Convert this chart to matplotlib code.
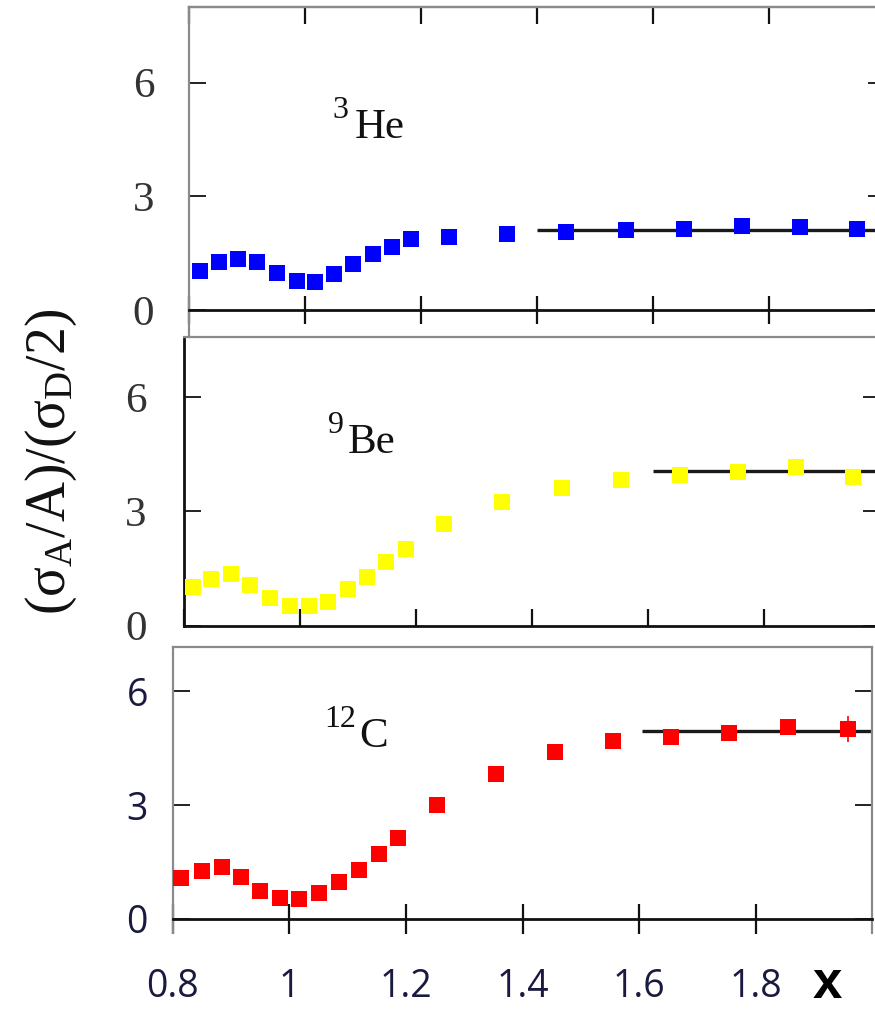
import matplotlib
matplotlib.use("Agg")
import matplotlib.pyplot as plt

plt.rcParams['mathtext.fontset'] = 'custom'
plt.rcParams['mathtext.rm'] = 'Liberation Serif'
plt.rcParams['mathtext.it'] = 'Liberation Serif'
plt.rcParams['mathtext.bf'] = 'Liberation Serif:bold'

# ---------------- data ----------------
x_he = [0.819, 0.851, 0.884, 0.918, 0.952, 0.986, 1.018, 1.050, 1.083, 1.117,
        1.150, 1.183, 1.249, 1.349, 1.450, 1.554, 1.653, 1.753, 1.853, 1.952]
y_he = [1.04, 1.26, 1.36, 1.27, 0.98, 0.77, 0.75, 0.95, 1.23, 1.48,
        1.67, 1.87, 1.92, 2.00, 2.05, 2.11, 2.13, 2.22, 2.20, 2.13]
e_he = [0, 0, 0, 0, 0, 0, 0, 0, 0, 0, 0, 0, 0, 0, 0, 0, 0, 0, 0, 0]

x_be = [0.815, 0.847, 0.881, 0.914, 0.949, 0.982, 1.015, 1.048, 1.083, 1.116,
        1.149, 1.182, 1.249, 1.349, 1.452, 1.554, 1.656, 1.755, 1.855, 1.953]
y_be = [1.01, 1.21, 1.34, 1.07, 0.72, 0.51, 0.50, 0.61, 0.95, 1.27,
        1.68, 2.02, 2.66, 3.24, 3.62, 3.83, 3.95, 4.02, 4.17, 3.90]
e_be = [0, 0, 0, 0, 0, 0, 0, 0, 0, 0, 0, 0, 0, 0, 0, 0, 0, 0, 0.05, 0.2]

x_c = [0.814, 0.850, 0.884, 0.917, 0.950, 0.983, 1.017, 1.051, 1.085, 1.119,
       1.153, 1.187, 1.254, 1.354, 1.455, 1.555, 1.655, 1.754, 1.856, 1.958]
y_c = [1.07, 1.27, 1.36, 1.11, 0.74, 0.54, 0.52, 0.68, 0.96, 1.29,
       1.70, 2.14, 3.00, 3.81, 4.39, 4.68, 4.78, 4.90, 5.06, 5.00]
e_c = [0, 0, 0, 0, 0, 0, 0, 0, 0, 0, 0, 0, 0, 0, 0, 0, 0, 0.05, 0.12, 0.35]

# plateau levels (x start/end, level)
plat_he = ([1.40, 2.0], [2.11, 2.11])
plat_be = ([1.608, 2.0], [4.06, 4.06])
plat_c = ([1.605, 2.0], [4.96, 4.96])

mass_numbers = ['3', '9', '12']
names = ['He', 'Be', 'C']
colors = ['#0000ff', '#ffff00', '#ff0000']

xticks = [0.8, 1.0, 1.2, 1.4, 1.6, 1.8]
xticklabels = ['0.8', '1', '1.2', '1.4', '1.6', '1.8']
yticks = [0, 3, 6]
yticklabels = ['0', '3', '6']

# ---------------- figure ----------------
W, H = 875, 1010
fig = plt.figure(figsize=(W / 100, H / 100), dpi=100)


def add_axes(left, right, top, bottom):
    return fig.add_axes([left / W, 1 - bottom / H, (right - left) / W, (bottom - top) / H])


ax2 = add_axes(184, 880, 337, 625.5)
ax1 = add_axes(189, 885, 7.3, 336.7)
ax3 = add_axes(173, 872, 647, 933)

GREY = '#8a8a8a'
serif_tick = dict(family='Liberation Serif', size=31, color='#333333')
sans_tick = dict(family='Open Sans', size=27, color='#1a1a40')

series = [(ax1, x_he, y_he, e_he, plat_he),
          (ax2, x_be, y_be, e_be, plat_be),
          (ax3, x_c, y_c, e_c, plat_c)]

for i, (ax, xs, ys, es, plat) in enumerate(series):
    ax.set_facecolor('none')
    ax.plot(plat[0], plat[1], color='#1a1a1a', lw=2.4, zorder=2, solid_capstyle='butt')
    ax.errorbar(xs, ys, yerr=es, fmt='s', color=colors[i], ms=11, mew=0,
                elinewidth=1.2, capsize=5, capthick=1.2, zorder=3)
    ax.set_xlim(0.8, 2.0)
    ax.set_xticks(xticks)
    ax.set_yticks(yticks)
    for s in ax.spines.values():
        s.set_color(GREY)
        s.set_linewidth(1.6)

# panel 1
ax1.set_ylim(-0.70, 7.99)
ax1.spines['bottom'].set_position(('data', 0))
ax1.spines['bottom'].set_color('#111111')
ax1.spines['bottom'].set_linewidth(2)
ax1.tick_params(axis='x', direction='inout', length=20, width=1.6, color='#111111',
                labelbottom=False, top=False)
ax1.tick_params(axis='y', direction='in', length=12, width=1.4, color='#222222',
                right=True, pad=25)
ax1.set_yticklabels(yticklabels, fontdict=serif_tick)
sec1 = ax1.secondary_xaxis('top')
sec1.set_xticks(xticks)
sec1.tick_params(direction='in', length=12, width=1.6, color='#111111', labeltop=False)
sec1.spines['top'].set_color(GREY)
sec1.spines['top'].set_linewidth(1.6)

# panel 2
ax2.set_ylim(0, 7.58)
ax2.spines['bottom'].set_color('#111111')
ax2.spines['left'].set_color('#111111')
ax2.spines['bottom'].set_linewidth(2)
ax2.spines['left'].set_linewidth(2)
ax2.tick_params(axis='x', direction='in', length=12, width=1.6, color='#111111',
                labelbottom=False)
ax2.tick_params(axis='y', direction='in', length=12, width=1.4, color='#222222',
                right=True, pad=27)
ax2.set_yticklabels(yticklabels, fontdict=serif_tick)

# panel 3
ax3.set_ylim(-0.37, 7.16)
ax3.spines['bottom'].set_position(('data', 0))
ax3.spines['bottom'].set_color('#111111')
ax3.spines['bottom'].set_linewidth(2)
ax3.tick_params(axis='x', direction='inout', length=22, width=1.6, color='#111111', pad=24)
ax3.set_xticklabels(xticklabels, fontdict=sans_tick)
ax3.tick_params(axis='y', direction='in', length=12, width=1.4, color='#222222',
                right=True, pad=18)
ax3.set_yticklabels(yticklabels, fontdict=sans_tick)

# nucleus labels: (axes, superscript left x, superscript baseline y,
#                  name left x, name baseline y) in data units
label_pos = [(ax1, 1.048, 5.07, 1.086, 4.54),
             (ax2, 1.048, 5.05, 1.083, 4.53),
             (ax3, 1.059, 5.05, 1.119, 4.53)]
for (ax, sx, sy, nx, ny), a, n in zip(label_pos, mass_numbers, names):
    ax.text(sx, sy, a, fontsize=23, family='Liberation Serif', ha='left',
            va='baseline', color='#111111')
    ax.text(nx, ny, n, fontsize=31, family='Liberation Serif', ha='left',
            va='baseline', color='#111111')

# axis labels
fig.text(51 / W, 1 - 462 / H, r'$(\sigma_{\mathrm{A}}/\mathrm{A})/(\sigma_{\mathrm{D}}/2)$',
         rotation=90, ha='center', va='center', fontsize=40, color='#111111')
fig.text(827 / W, 1 - 1009 / H, 'x', ha='center', va='bottom', fontsize=38,
         fontweight='bold', family='Liberation Sans', color='black')

fig.savefig('out.png', dpi=100)
